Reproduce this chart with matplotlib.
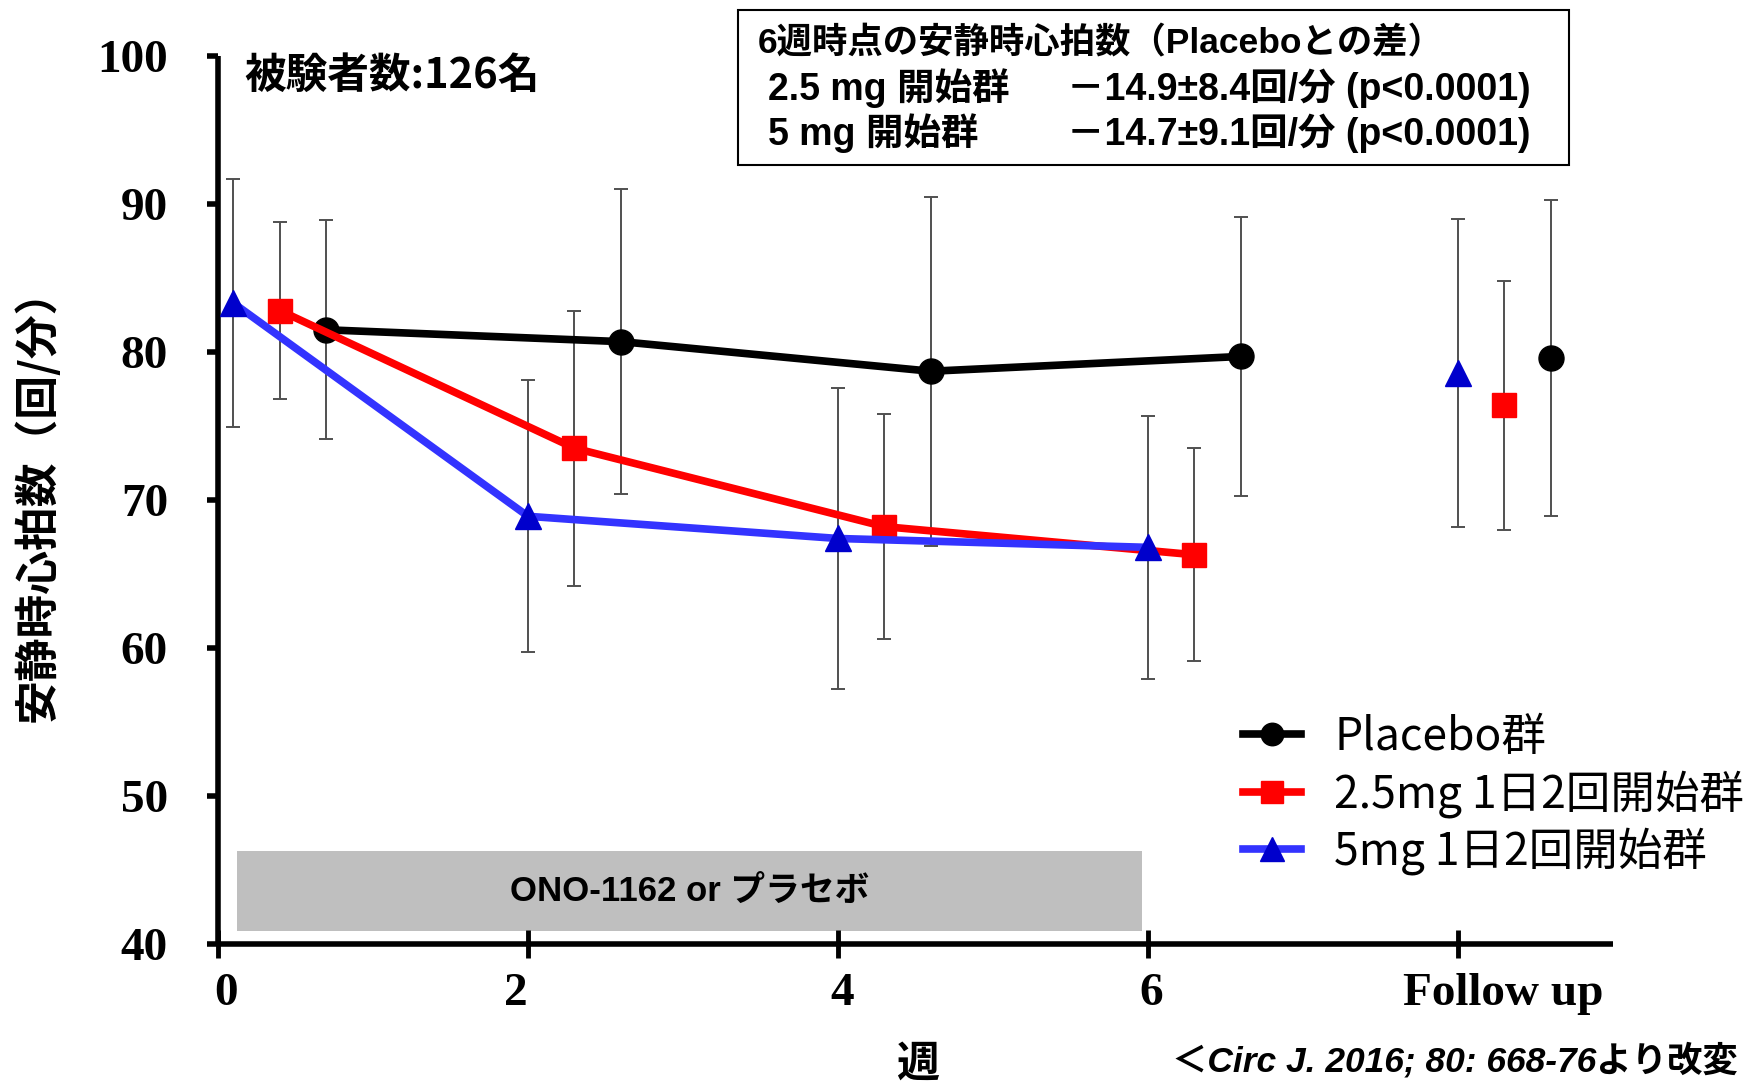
import matplotlib
matplotlib.use("Agg")
import matplotlib.pyplot as plt
from matplotlib import font_manager
from matplotlib.patches import Rectangle
from matplotlib.transforms import ScaledTranslation

# ---- data -------------------------------------------------------------
tick_pos = [0, 2, 4, 6, 8]
tick_labels = ["0", "2", "4", "6", "Follow up"]

placebo_x = [0.7, 2.6, 4.6, 6.6, 8.6]
placebo_mean = [81.5, 80.7, 78.7, 79.7, 79.6]
placebo_sd = [7.4, 10.3, 11.8, 9.4, 10.7]

dose25_x = [0.4, 2.3, 4.3, 6.3, 8.3]
dose25_mean = [82.8, 73.5, 68.2, 66.3, 76.4]
dose25_sd = [6.0, 9.3, 7.6, 7.2, 8.4]

dose5_x = [0.1, 2.0, 4.0, 6.0, 8.0]
dose5_mean = [83.3, 68.9, 67.4, 66.8, 78.6]
dose5_sd = [8.4, 9.2, 10.2, 8.9, 10.4]

series_labels = ["Placebo群", "2.5mg 1日2回開始群", "5mg 1日2回開始群"]

treatment_start, treatment_end = 0.12, 5.96
treatment_low, treatment_high = 40.85, 46.3
treatment_text = "ONO-1162 or プラセボ"

# ---- fonts --------------------------------------------------------------
installed = {f.name for f in font_manager.fontManager.ttflist}
narrow = "Liberation Sans Narrow" if "Liberation Sans Narrow" in installed else "Liberation Sans"
CJK = "Noto Sans CJK JP"
SERIF = "Liberation Serif"
cond = [narrow, CJK]

W, H = 1756, 1085
fig = plt.figure(figsize=(W / 100, H / 100), dpi=100)


def fx(x):
    return x / W


def fy(y):
    return 1 - y / H


ax = fig.add_axes([218 / W, 1 - 944 / H, 1395 / W, 888 / H])
ax.set_xlim(0, 9.0)
ax.set_ylim(40, 100)

# spines
for s in ("top", "right"):
    ax.spines[s].set_visible(False)
for s in ("left", "bottom"):
    ax.spines[s].set_linewidth(4)
    ax.spines[s].set_capstyle("butt")
ax.spines["bottom"].set_bounds(0, 9.0)

ax.set_yticks(range(40, 101, 10))
ax.set_xticks(tick_pos)
ax.set_xticklabels(tick_labels)
ax.tick_params(axis="y", direction="out", length=8, width=4, pad=28)
ax.tick_params(axis="x", direction="inout", length=20, width=3.5, pad=11)
for lab in ax.get_yticklabels() + ax.get_xticklabels():
    lab.set_fontfamily(SERIF)
    lab.set_fontweight("bold")
    lab.set_fontsize(34)
# small horizontal nudges of the week labels
nudges = [0.08, -0.12, 0.04, 0.03, 0.45]
for lab, dx in zip(ax.get_xticklabels(), nudges):
    lab.set_transform(lab.get_transform() + ScaledTranslation(dx, 0, fig.dpi_scale_trans))

# treatment period bar
ax.add_patch(Rectangle((treatment_start, treatment_low), treatment_end - treatment_start,
                       treatment_high - treatment_low, facecolor="#BFBFBF",
                       edgecolor="none", zorder=1))
ax.text((treatment_start + treatment_end) / 2, (treatment_low + treatment_high) / 2,
        treatment_text, ha="center", va="center", fontsize=25, fontweight="bold",
        family=cond, zorder=2)

err_kw = dict(fmt="none", ecolor="#505050", elinewidth=1.4, capsize=5, capthick=1.4, zorder=2)

specs = [
    (placebo_x, placebo_mean, placebo_sd, "#000000", "#000000", "o", 18),
    (dose25_x, dose25_mean, dose25_sd, "#FF0000", "#FF0000", "s", 17),
    (dose5_x, dose5_mean, dose5_sd, "#3333FF", "#0000CC", "^", 19),
]
handles = []
for (xs, ms, sds, lc, mc, mk, msz), lab in zip(specs, series_labels):
    ax.errorbar(xs, ms, yerr=sds, **err_kw)
    h, = ax.plot(xs[:4], ms[:4], color=lc, lw=5.5, marker=mk, ms=msz,
                 mfc=mc, mec=mc, zorder=4, label=lab, solid_joinstyle="round")
    ax.plot(xs[4:], ms[4:], linestyle="none", marker=mk, ms=msz, mfc=mc, mec=mc, zorder=4)
    handles.append(h)

leg = ax.legend(handles=handles, loc="upper left",
                bbox_to_anchor=(fx(1243), fy(714)), bbox_transform=fig.transFigure,
                frameon=False, prop={"family": CJK, "size": 32},
                handlelength=1.3, handletextpad=0.75, labelspacing=0.22,
                borderpad=0, borderaxespad=0, markerscale=0.9)

# sample size
fig.text(fx(244), fy(76), "被験者数:126名", ha="left", va="center", fontsize=30,
         fontweight="bold", family=CJK)

# summary box
fig.add_artist(Rectangle((fx(738), fy(165)), (1569 - 738) / W, (165 - 10) / H,
                         transform=fig.transFigure, facecolor="white",
                         edgecolor="black", lw=1.5))
fig.text(fx(758), fy(43), "6週時点の安静時心拍数（Placeboとの差）", ha="left", va="center",
         fontsize=25.5, fontweight="bold", family=cond)
fig.text(fx(768), fy(88), "2.5 mg 開始群", ha="left", va="center",
         fontsize=27, fontweight="bold", family=cond)
fig.text(fx(1067), fy(88), "－14.9±8.4回/分 (p<0.0001)", ha="left", va="center",
         fontsize=27, fontweight="bold", family=cond)
fig.text(fx(768), fy(133), "5 mg 開始群", ha="left", va="center",
         fontsize=27, fontweight="bold", family=cond)
fig.text(fx(1067), fy(133), "－14.7±9.1回/分 (p<0.0001)", ha="left", va="center",
         fontsize=27, fontweight="bold", family=cond)

# axis titles
fig.text(fx(37), fy(495), "安静時心拍数（回/分）", rotation=90, ha="center", va="center",
         fontsize=31.5, fontweight="bold", family=CJK)
fig.text(fx(918), fy(1064), "週", ha="center", va="center", fontsize=31,
         fontweight="bold", family=CJK)

# source note
fig.text(fx(1172), fy(1061), "＜Circ J. 2016; 80: 668-76より改変", ha="left", va="center",
         fontsize=25.5, fontweight="bold", style="italic", family=cond)

fig.savefig("out.png", dpi=100)
